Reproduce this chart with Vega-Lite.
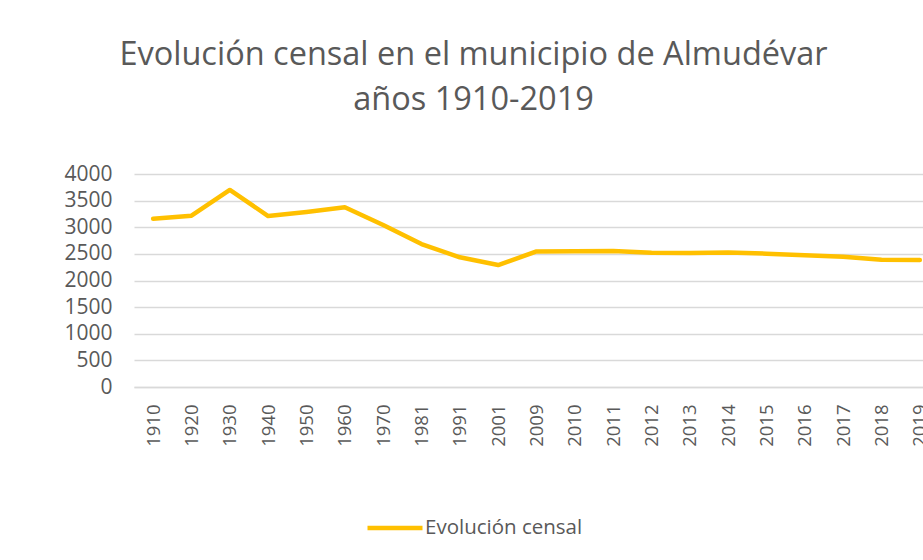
{
  "$schema": "https://vega.github.io/schema/vega-lite/v6.json",
  "autosize": "none",
  "width": 805,
  "height": 213,
  "padding": {"left": 134, "top": 174, "right": 0, "bottom": 173},
  "background": "white",
  "title": {
    "text": ["Evolución censal en el municipio de Almudévar", "años 1910-2019"],
    "font": "Open Sans",
    "fontSize": 32.5,
    "fontWeight": "normal",
    "color": "#595959",
    "anchor": "middle",
    "frame": "group",
    "dx": -63,
    "offset": 47,
    "lineHeight": 45
  },
  "data": {
    "values": [
      {"year": "1910", "pob": 3160, "serie": "Evolución censal"},
      {"year": "1920", "pob": 3217, "serie": "Evolución censal"},
      {"year": "1930", "pob": 3700, "serie": "Evolución censal"},
      {"year": "1940", "pob": 3211, "serie": "Evolución censal"},
      {"year": "1950", "pob": 3286, "serie": "Evolución censal"},
      {"year": "1960", "pob": 3375, "serie": "Evolución censal"},
      {"year": "1970", "pob": 3042, "serie": "Evolución censal"},
      {"year": "1981", "pob": 2685, "serie": "Evolución censal"},
      {"year": "1991", "pob": 2436, "serie": "Evolución censal"},
      {"year": "2001", "pob": 2291, "serie": "Evolución censal"},
      {"year": "2009", "pob": 2545, "serie": "Evolución censal"},
      {"year": "2010", "pob": 2548, "serie": "Evolución censal"},
      {"year": "2011", "pob": 2555, "serie": "Evolución censal"},
      {"year": "2012", "pob": 2522, "serie": "Evolución censal"},
      {"year": "2013", "pob": 2515, "serie": "Evolución censal"},
      {"year": "2014", "pob": 2528, "serie": "Evolución censal"},
      {"year": "2015", "pob": 2504, "serie": "Evolución censal"},
      {"year": "2016", "pob": 2473, "serie": "Evolución censal"},
      {"year": "2017", "pob": 2447, "serie": "Evolución censal"},
      {"year": "2018", "pob": 2391, "serie": "Evolución censal"},
      {"year": "2019", "pob": 2385, "serie": "Evolución censal"}
    ]
  },
  "mark": {"type": "line", "strokeWidth": 4.5, "strokeCap": "round", "strokeJoin": "round"},
  "encoding": {
    "x": {
      "field": "year",
      "type": "ordinal",
      "sort": null,
      "scale": {"type": "point", "padding": 0.5},
      "axis": {
        "title": null,
        "labelAngle": -90,
        "labelAlign": "right",
        "labelBaseline": "middle",
        "labelFont": "Open Sans",
        "labelFontSize": 18.5,
        "labelColor": "#595959",
        "labelPadding": 17,
        "ticks": false,
        "domain": true,
        "domainColor": "#d9d9d9",
        "domainWidth": 1.5,
        "grid": false
      }
    },
    "y": {
      "field": "pob",
      "type": "quantitative",
      "scale": {"domain": [0, 4000], "nice": false},
      "axis": {
        "title": null,
        "values": [0, 500, 1000, 1500, 2000, 2500, 3000, 3500, 4000],
        "format": "d",
        "labelFont": "Open Sans",
        "labelFontSize": 21,
        "labelColor": "#595959",
        "labelPadding": 22,
        "ticks": false,
        "domain": false,
        "grid": true,
        "gridColor": "#d9d9d9",
        "gridWidth": 1.5
      }
    },
    "color": {
      "field": "serie",
      "type": "nominal",
      "scale": {"range": ["#FFC000"]},
      "legend": {
        "title": null,
        "orient": "none",
        "legendX": 231,
        "legendY": 324,
        "padding": 0,
        "symbolType": "stroke",
        "symbolSize": 3025,
        "symbolStrokeWidth": 4.5,
        "labelFont": "Open Sans",
        "labelFontSize": 20.5,
        "labelColor": "#595959",
        "labelOffset": 0
      }
    }
  },
  "config": {"view": {"stroke": null}}
}
